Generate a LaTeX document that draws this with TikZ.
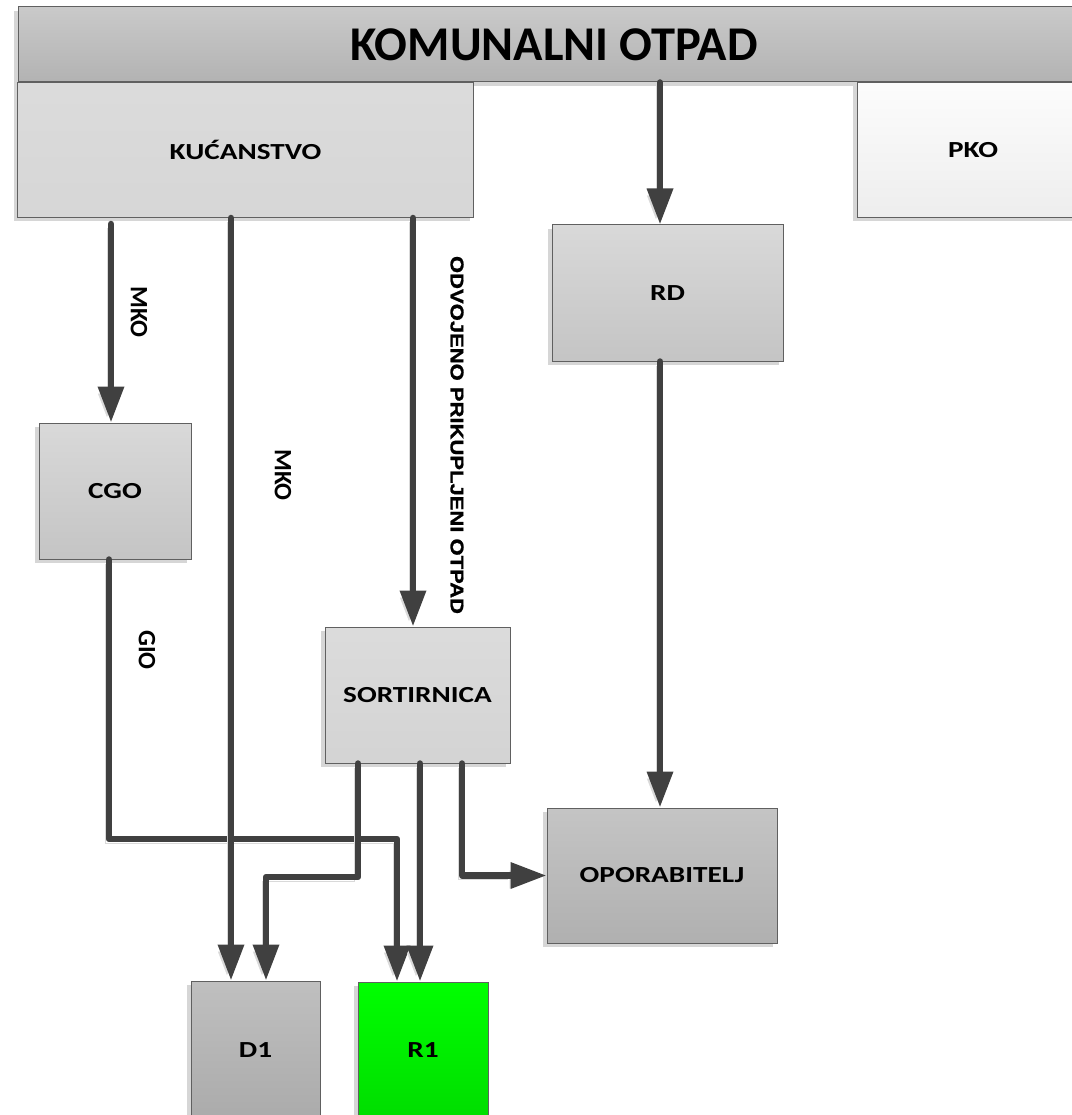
\documentclass[tikz,border=0pt]{standalone}
\usepackage{fontspec}
\usetikzlibrary{arrows.meta,shadows,calc}
\newfontfamily\titlefont{Carlito}
\newfontfamily\boxfont[FakeStretch=1.27]{Carlito}
\newfontfamily\lblfont{Carlito}
\newfontfamily\arialfont[FakeStretch=1.19,FakeBold=1.2]{Liberation Sans Bold}
\definecolor{linec}{HTML}{404040}
\definecolor{borderc}{HTML}{606060}
\tikzset{
  shadowed/.style={drop shadow={shadow xshift=-4pt,shadow yshift=-4pt,fill=black!16,opacity=1}},
  box/.style={rectangle, draw=borderc, line width=1pt, shadowed, inner sep=0pt,
    font=\boxfont\bfseries\fontsize{23}{26}\selectfont, text=black},
  conn/.style={draw=linec, line width=6.5pt, line cap=round, line join=round,
    -{Triangle[length=36pt,width=25pt]},
    preaction={draw=black!15, transform canvas={xshift=-4pt,yshift=-4pt}}},
  lbl/.style={rotate=-90, font=\lblfont\bfseries\fontsize{25}{28}\selectfont, inner sep=0pt},
}
\begin{document}
\begin{tikzpicture}[x=1pt,y=-1pt]
\useasboundingbox (0,0) rectangle (1071,1115);
% nodes
\node[box, minimum width=1072pt, minimum height=75pt, top color=white!79!black, bottom color=white!70!black,
  font=\titlefont\bfseries\fontsize{48.5}{52}\selectfont] (title) at (554,44.5) {KOMUNALNI OTPAD};
\node[box, minimum width=456pt, minimum height=135pt, top color=white!86!black, bottom color=white!84!black] (kuc) at (245.5,150) {KUĆANSTVO};
\node[box, minimum width=232pt, minimum height=135pt, top color=white!99!black, bottom color=white!93!black] (pko) at (973,150) {PKO};
\node[box, minimum width=231pt, minimum height=136pt, top color=white!85!black, bottom color=white!77!black] (rd) at (667.5,293) {RD};
\node[box, minimum width=152pt, minimum height=136pt, top color=white!85!black, bottom color=white!77!black] (cgo) at (115,491) {CGO};
\node[box, minimum width=185pt, minimum height=136pt, top color=white!86!black, bottom color=white!83!black] (sort) at (417.5,695) {SORTIRNICA};
\node[box, minimum width=230pt, minimum height=135pt, top color=white!77!black, bottom color=white!69!black] (opor) at (662,875.5) {OPORABITELJ};
\node[box, minimum width=129pt, minimum height=138pt, top color=white!75!black, bottom color=white!67!black] (d1) at (255.5,1050) {D1};
\node[box, minimum width=130pt, minimum height=136pt, top color={rgb,255:red,0;green,255;blue,0}, bottom color={rgb,255:red,0;green,221;blue,0}] (r1) at (423,1050) {R1};
% connectors (GIO route first, crossed by later lines)
\coordinate (g1) at (109,839);
\coordinate (g2) at (397,839);
\draw[conn] (109,0 |- cgo.south) -- (g1) -- (g2) -- (397,0 |- r1.north);
\draw[conn] (660,0 |- title.south) -- (660,0 |- rd.north);
\draw[conn] (111,224) -- (111,0 |- cgo.north);
\draw[conn] (231,0 |- kuc.south) -- (231,0 |- d1.north);
\draw[conn] (413,0 |- kuc.south) -- (413,0 |- sort.north);
\coordinate (s1) at (358,877);
\coordinate (s2) at (266,877);
\draw[conn] (358,0 |- sort.south) -- (s1) -- (s2) -- (266,0 |- d1.north);
\draw[conn] (420,0 |- sort.south) -- (420,0 |- r1.north);
\coordinate (o1) at (462,0 |- opor.west);
\draw[conn] (462,0 |- sort.south) -- (o1) -- (opor.west);
\draw[conn] (660,0 |- rd.south) -- (660,0 |- opor.north);
% labels
\node[lbl] (l1) at (139,312) {MKO};
\node[lbl] (l2) at (283,475) {MKO};
\node[lbl] (l3) at (147,650) {GIO};
\node[lbl, font=\arialfont\fontsize{18.5}{20}\selectfont] (l4) at (457,435) {ODVOJENO PRIKUPLJENI OTPAD};
\end{tikzpicture}
\end{document}
